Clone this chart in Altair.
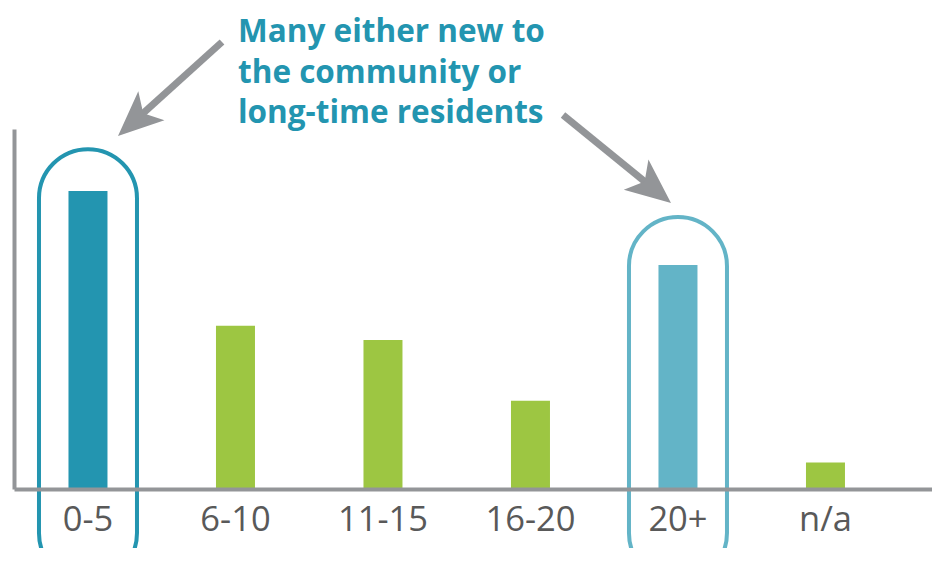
import math
import altair as alt
import pandas as pd

# ---- data ----
categories = ["0-5", "6-10", "11-15", "16-20", "20+", "n/a"]
values = [31.4, 17.2, 15.7, 9.3, 23.6, 2.8]
bar_colors = ["#2395b0", "#9dc642", "#9dc642", "#9dc642", "#63b4c7", "#9dc642"]

highlight_cats = ["0-5", "20+"]
highlight_tops = [35.8, 28.65]
highlight_bottoms = [-9.8, -9.8]
highlight_colors = ["#2395b0", "#63b4c7"]

title_lines = ["Many either new to", "the community or", "long-time residents"]

# annotation arrows (plot-area pixel coordinates: start, tip)
arrow_starts = [(208, -87), (549, -14)]
arrow_tips = [(104, 7), (657, 74)]

GRAY = "#939598"
TEAL = "#2395b0"

bars_df = pd.DataFrame({"cat": categories, "val": values, "color": bar_colors})
hl_df = pd.DataFrame({"cat": highlight_cats, "top": highlight_tops,
                      "bottom": highlight_bottoms, "color": highlight_colors})

x_enc = alt.X("cat:N", sort=categories,
              scale=alt.Scale(paddingInner=0.7356, paddingOuter=0.4797, align=0.385,
                              round=False),
              axis=alt.Axis(title=None, labelAngle=0, ticks=False, tickSize=0,
                            labelFontSize=34.5, labelFont="Open Sans", labelColor="#595959",
                            labelPadding=14, domainColor=GRAY, domainWidth=4,
                            labelLimit=300, zindex=1))
y_scale = alt.Scale(domain=[0, 37.92], nice=False, zero=True)

bars = alt.Chart(bars_df).mark_bar().encode(
    x=x_enc,
    y=alt.Y("val:Q", scale=y_scale,
            axis=alt.Axis(title=None, labels=False, ticks=False, grid=False,
                          domainColor=GRAY, domainWidth=4)),
    color=alt.Color("color:N", scale=None),
)

ovals = alt.Chart(hl_df).mark_bar(size=98, cornerRadius=49, fill="transparent",
                                  strokeWidth=4).encode(
    x=alt.X("cat:N", sort=categories),
    y=alt.Y("top:Q", scale=y_scale),
    y2="bottom:Q",
    stroke=alt.Stroke("color:N", scale=None),
)

title = alt.Chart(pd.DataFrame({"a": [0]})).mark_text(
    text=title_lines, align="left", baseline="alphabetic", font="Open Sans",
    fontWeight="bold", fontSize=31.5, lineHeight=40.5, color=TEAL,
).encode(x=alt.value(224), y=alt.value(-87))

arrow_path = "M0,-1 L0.867,1 L0,0.511 L-0.867,1 Z"
layers = [bars, ovals, title]
for (sx, sy), (tx, ty) in zip(arrow_starts, arrow_tips):
    dx, dy = tx - sx, ty - sy
    L = math.hypot(dx, dy)
    ux, uy = dx / L, dy / L
    cx, cy = tx - 22.5 * ux, ty - 22.5 * uy
    ang = (math.degrees(math.atan2(dy, dx)) + 90) % 360
    shaft = alt.Chart(pd.DataFrame({"a": [0]})).mark_rule(
        color=GRAY, strokeWidth=7, strokeCap="butt").encode(
        x=alt.value(sx), y=alt.value(sy), x2=alt.value(cx), y2=alt.value(cy))
    head = alt.Chart(pd.DataFrame({"a": [0]})).mark_point(
        shape=arrow_path, filled=True, size=2025, angle=ang, color=GRAY, opacity=1,
        strokeWidth=0).encode(x=alt.value(cx), y=alt.value(cy))
    layers += [shaft, head]

chart = alt.layer(*layers).properties(
    width=918, height=360,
    autosize=alt.AutoSizeParams(type="none"),
    padding={"left": 6, "top": 121, "right": 0, "bottom": 59},
).configure_view(stroke=None)

chart.save("out.html", embed_options={"renderer": "svg", "actions": False})
